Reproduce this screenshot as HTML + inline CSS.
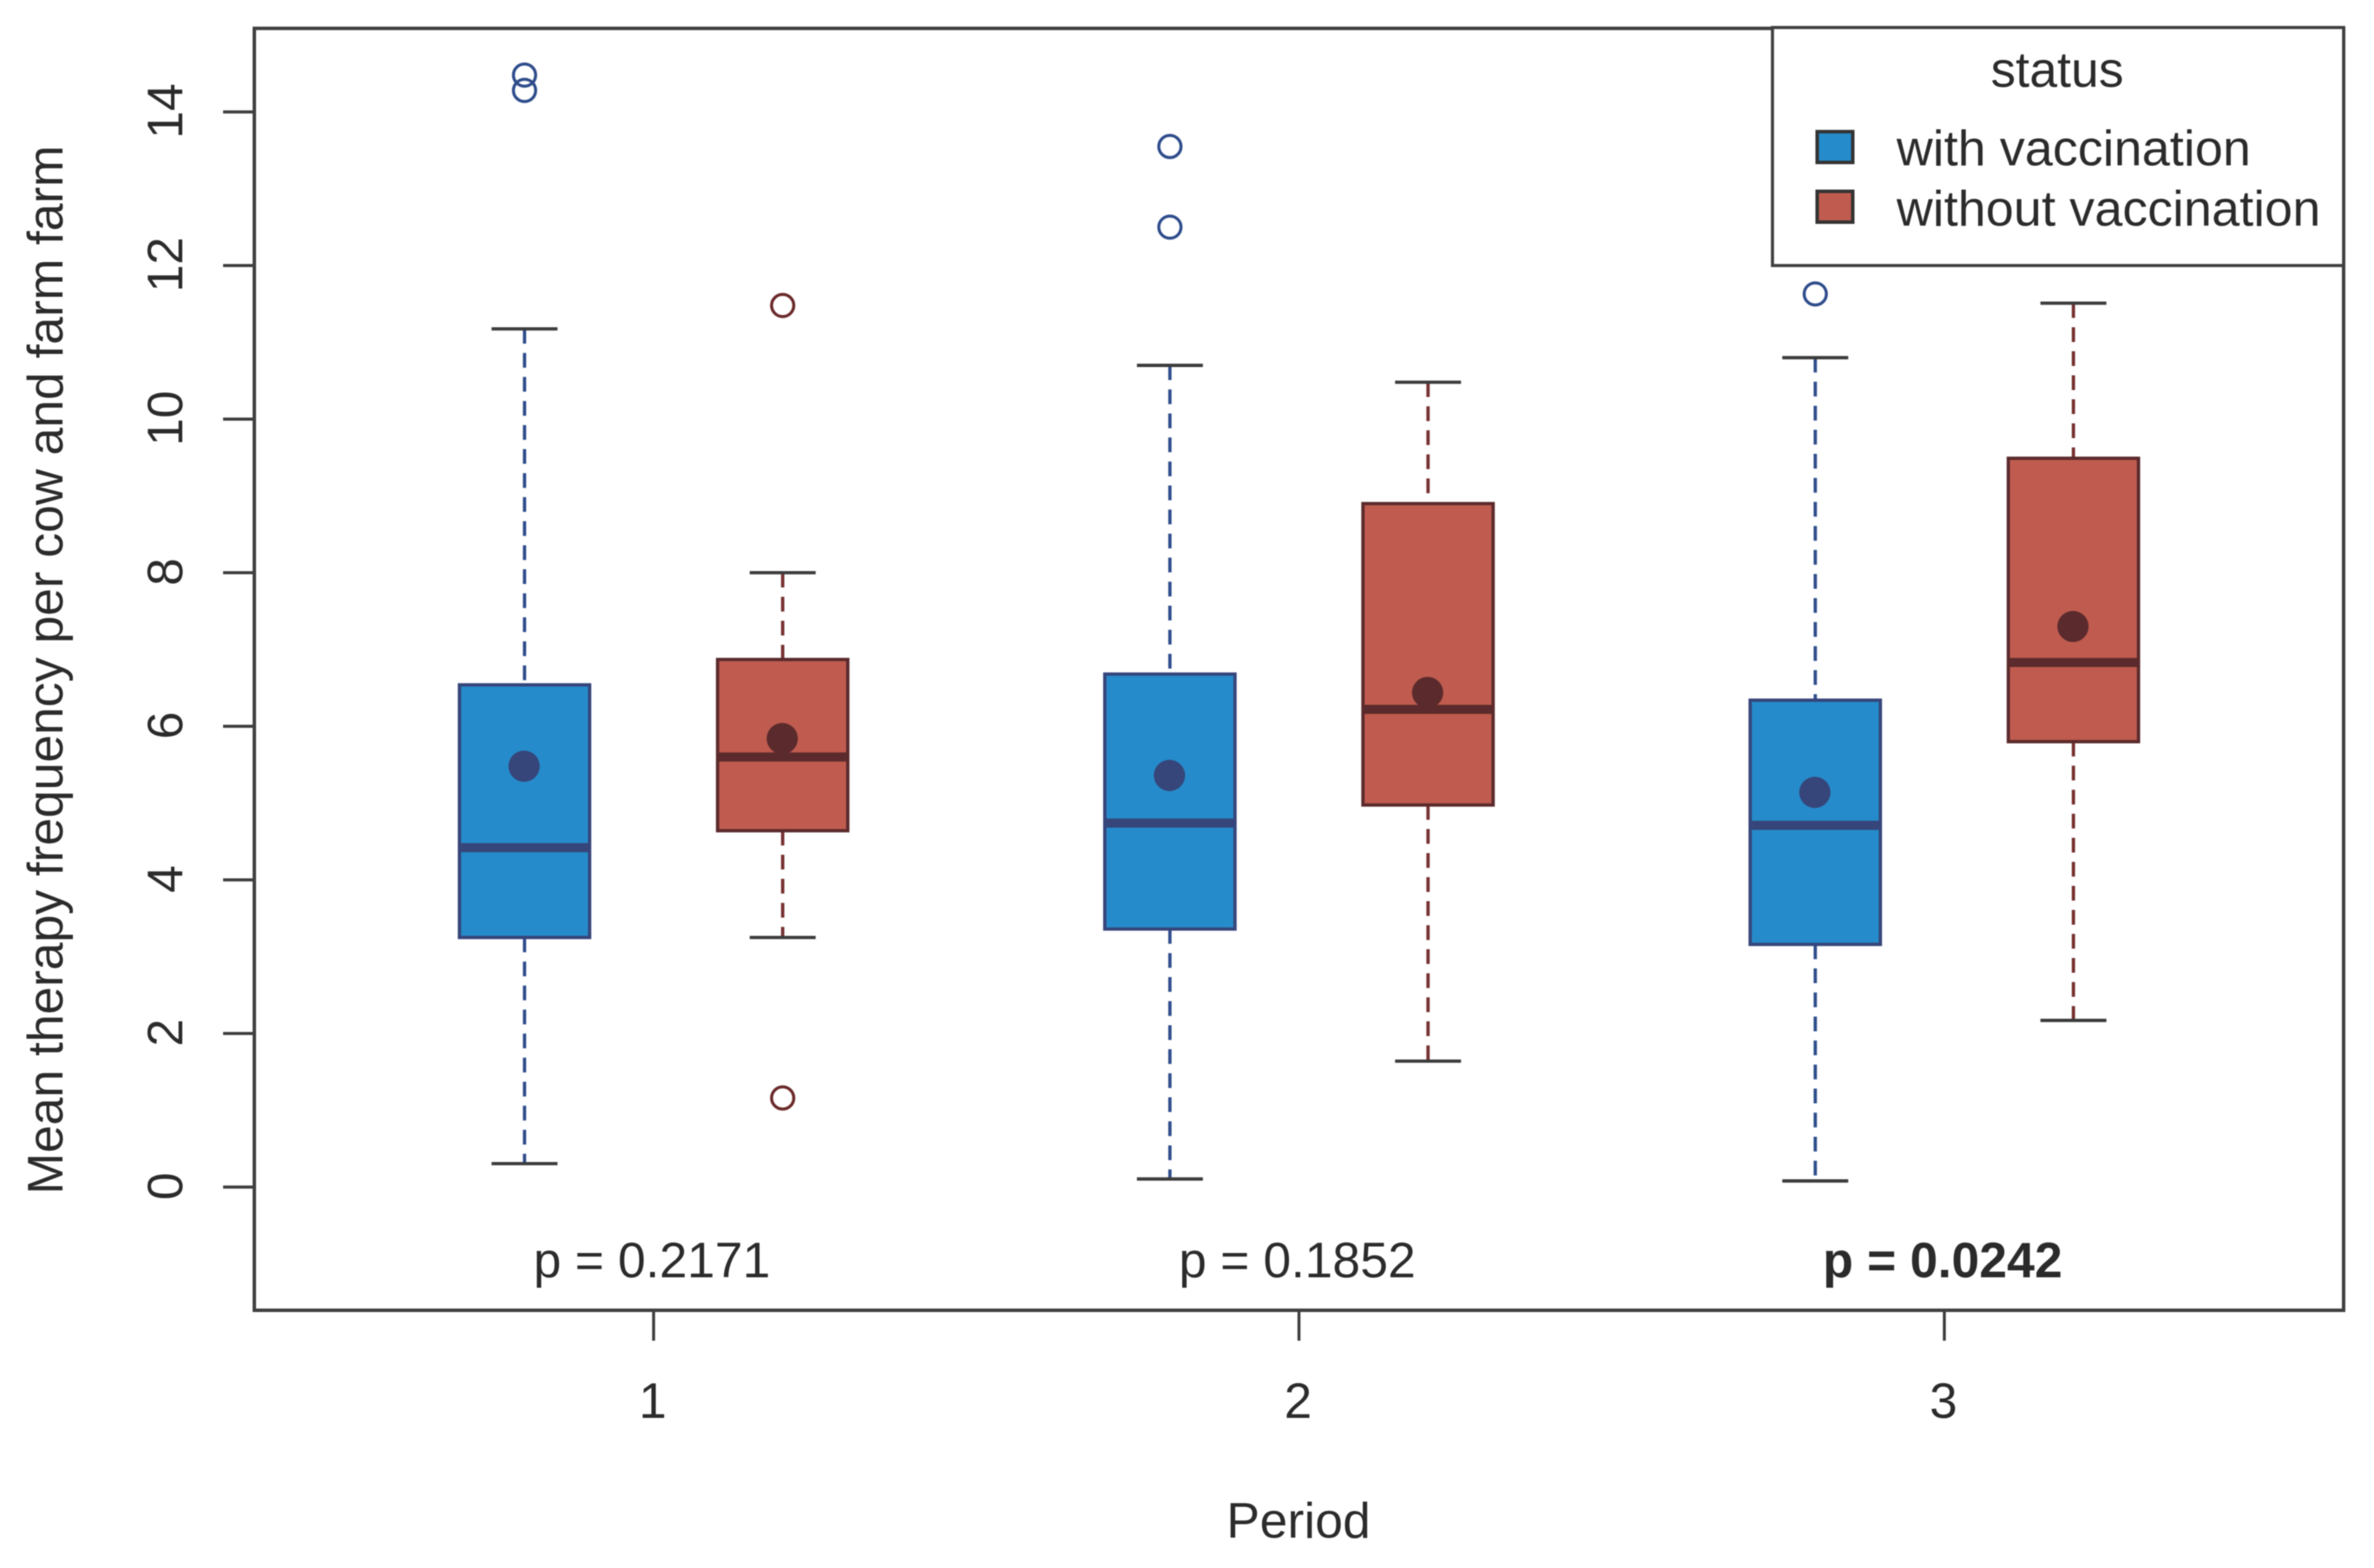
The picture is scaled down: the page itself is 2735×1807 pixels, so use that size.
<!DOCTYPE html>
<html>
<head>
<meta charset="utf-8">
<title>Mean therapy frequency by period and vaccination status</title>
<style>
  html, body { margin: 0; padding: 0; background: #fff; }
  svg { display: block; font-family: "Liberation Sans", Arial, sans-serif; filter: blur(0.6px); }
  text { fill: #2b2b2b; font-size: 57.4px; }
</style>
</head>
<body>
<svg id="chart" xmlns="http://www.w3.org/2000/svg" width="2735" height="1807" viewBox="0 0 2735 1807"></svg>
<script>
const periods = ['1', '2', '3'];
const seriesNames = ['with vaccination', 'without vaccination'];
const yTicks = [0, 2, 4, 6, 8, 10, 12, 14];
const pValues = ['p = 0.2171', 'p = 0.1852', 'p = 0.0242'];
const pBold = [false, false, true];

const withLowCap = [0.305, 0.105, 0.08];
const withQ1 = [3.25, 3.36, 3.16];
const withMedian = [4.42, 4.74, 4.71];
const withQ3 = [6.54, 6.68, 6.34];
const withHighCap = [11.175, 10.70, 10.80];
const withMean = [5.48, 5.36, 5.14];
const withOutliers = [[14.48, 14.28], [13.55, 12.5], [11.63]];

const withoutLowCap = [3.25, 1.64, 2.17];
const withoutQ1 = [4.64, 4.975, 5.80];
const withoutMedian = [5.60, 6.22, 6.83];
const withoutQ3 = [6.87, 8.90, 9.49];
const withoutHighCap = [8.0, 10.48, 11.51];
const withoutMean = [5.84, 6.44, 7.30];
const withoutOutliers = [[11.48, 1.16], [], []];

const svg = document.getElementById('chart');
const NS = 'http://www.w3.org/2000/svg';

function make(tag, attrs, text) {
  const el = document.createElementNS(NS, tag);
  for (const k in attrs) el.setAttribute(k, attrs[k]);
  if (text !== undefined) el.textContent = text;
  svg.appendChild(el);
  return el;
}

const plot = { left: 293, top: 32.7, right: 2700, bottom: 1510 };
function yScale(v) { return 1368 - 88.5 * v; }
function xScale(i) { return 753 + 743.5 * i; }
const dodge = 148.7;
const boxHalf = 75;
const capHalf = 38;
const inkColor = '#3c3c3c';

const styles = [
  { key: 'with', fill: '#268bca', line: '#36457a', dash: '#2f4d8c', point: '#2f4d8c' },
  { key: 'without', fill: '#bf5c4f', line: '#5b2a2c', dash: '#75302f', point: '#6b2a2a' }
];
const seriesData = [
  { low: withLowCap, q1: withQ1, med: withMedian, q3: withQ3, high: withHighCap, mean: withMean, out: withOutliers },
  { low: withoutLowCap, q1: withoutQ1, med: withoutMedian, q3: withoutQ3, high: withoutHighCap, mean: withoutMean, out: withoutOutliers }
];

// y axis
yTicks.forEach(function (t) {
  const y = yScale(t);
  const tick = make('line', { x1: 257, x2: plot.left, y1: y, y2: y, stroke: inkColor, 'stroke-width': 3.4 });
  
  
  const label = make('text', { x: 210, y: y - 1, 'text-anchor': 'middle', transform: 'rotate(-90 210 ' + (y - 1) + ')' }, String(t));
  
  
});

const yTitle = make('text', { x: 72, y: 772, 'text-anchor': 'middle', transform: 'rotate(-90 72 772)' }, 'Mean therapy frequency per cow and farm farm');



// x axis
periods.forEach(function (p, i) {
  const x = xScale(i);
  const tick = make('line', { x1: x, x2: x, y1: plot.bottom, y2: 1545, stroke: inkColor, 'stroke-width': 3.4 });
  
  
  const label = make('text', { x: x - 1, y: 1634, 'text-anchor': 'middle' }, p);
  
  
  const pv = make('text', { x: x - 2, y: 1472, 'text-anchor': 'middle', 'font-weight': pBold[i] ? 'bold' : 'normal' }, pValues[i]);
  
  
});

const xTitle = make('text', { x: 1496, y: 1772, 'text-anchor': 'middle' }, 'Period');



// boxes
seriesData.forEach(function (s, si) {
  const st = styles[si];
  const offset = si === 0 ? -dodge : dodge;
  periods.forEach(function (p, i) {
    const cx = xScale(i) + offset;
    const id = st.key + '-period-' + p;

    const upper = make('line', { x1: cx, x2: cx, y1: yScale(s.high[i]), y2: yScale(s.q3[i]), stroke: st.dash, 'stroke-width': 3.8, 'stroke-dasharray': '17 10.7' });
    
    

    const lower = make('line', { x1: cx, x2: cx, y1: yScale(s.q1[i]), y2: yScale(s.low[i]), stroke: st.dash, 'stroke-width': 3.8, 'stroke-dasharray': '17 10.7' });
    
    

    const capHigh = make('line', { x1: cx - capHalf, x2: cx + capHalf, y1: yScale(s.high[i]), y2: yScale(s.high[i]), stroke: inkColor, 'stroke-width': 3.8 });
    
    

    const capLow = make('line', { x1: cx - capHalf, x2: cx + capHalf, y1: yScale(s.low[i]), y2: yScale(s.low[i]), stroke: inkColor, 'stroke-width': 3.8 });
    
    

    const box = make('rect', { x: cx - boxHalf, y: yScale(s.q3[i]), width: boxHalf * 2, height: yScale(s.q1[i]) - yScale(s.q3[i]), fill: st.fill, stroke: st.line, 'stroke-width': 3.8 });
    
    

    const median = make('line', { x1: cx - boxHalf, x2: cx + boxHalf, y1: yScale(s.med[i]), y2: yScale(s.med[i]), stroke: st.line, 'stroke-width': 10.5 });
    
    

    const mean = make('circle', { cx: cx - 0.5, cy: yScale(s.mean[i]), r: 18, fill: st.line });
    
    

    s.out[i].forEach(function (v, k) {
      const o = make('circle', { cx: cx, cy: yScale(v), r: 12.8, fill: 'none', stroke: st.point, 'stroke-width': 3.5 });
      
      
    });
  });
});

// frame
const frame = make('rect', { x: plot.left, y: plot.top, width: plot.right - plot.left, height: plot.bottom - plot.top, fill: 'none', stroke: '#404040', 'stroke-width': 4 });



// legend
const legendBox = make('rect', { x: 2042, y: 31.7, width: 658, height: 274.3, fill: '#ffffff', stroke: '#404040', 'stroke-width': 3.6 });



const legendTitle = make('text', { x: 2370, y: 100, 'text-anchor': 'middle' }, 'status');



const legendBaselines = [190.7, 260];
const legendSwatchTops = [151.7, 220.5];
seriesNames.forEach(function (name, i) {
  const sw = make('rect', { x: 2093.5, y: legendSwatchTops[i], width: 41, height: 35.5, fill: styles[i].fill, stroke: '#333333', 'stroke-width': 4 });
  
  
  const t = make('text', { x: 2185, y: legendBaselines[i], style: 'font-size:57.8px' }, name);
  
  
});
</script>
</body>
</html>
